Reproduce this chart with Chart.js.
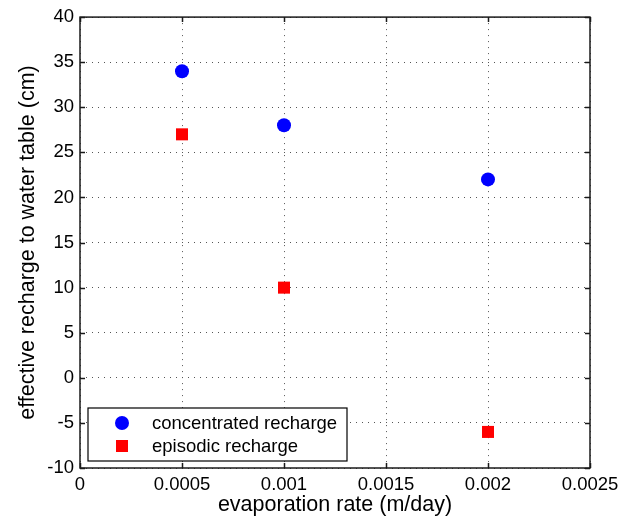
<!DOCTYPE html>
<html>
<head>
<meta charset="utf-8">
<script src="https://cdn.jsdelivr.net/npm/chart.js@4/dist/chart.umd.min.js"></script>
<style>
  html, body { margin: 0; padding: 0; background: #fff; }
  #wrap { width: 631px; height: 522px; }
</style>
</head>
<body>
<div id="wrap"><canvas id="recharge-chart" width="631" height="522"></canvas></div>
<script>
// evaporation rates (m/day) and recharge results (cm)
const evapRates = [0.0005, 0.001, 0.002];
const concentratedRecharge = [34, 28, 22];
const episodicRecharge = [27, 10, -6];

const xTicks = [0, 0.0005, 0.001, 0.0015, 0.002, 0.0025];
const yTicks = [-10, -5, 0, 5, 10, 15, 20, 25, 30, 35, 40];

const seriesNames = ["concentrated recharge", "episodic recharge"];

const FONT = "'Liberation Sans', Arial, Helvetica, sans-serif";

// box around plot area with inward ticks on all four sides
const boxPlugin = {
    id: "box",
    afterDatasetsDraw(chart) {
        const { ctx, chartArea: a, scales } = chart;
        ctx.save();
        ctx.strokeStyle = "#1a1a1a";
        ctx.lineWidth = 1.5;
        ctx.beginPath();
        xTicks.forEach(v => {
            const px = Math.round(scales.x.getPixelForValue(v)) + 0.5;
            ctx.moveTo(px, a.bottom); ctx.lineTo(px, a.bottom - 5);
            ctx.moveTo(px, a.top); ctx.lineTo(px, a.top + 5);
        });
        yTicks.forEach(v => {
            const py = Math.round(scales.y.getPixelForValue(v)) + 0.5;
            ctx.moveTo(a.left, py); ctx.lineTo(a.left + 5, py);
            ctx.moveTo(a.right, py); ctx.lineTo(a.right - 5, py);
        });
        ctx.stroke();
        ctx.strokeRect(a.left, a.top, a.right - a.left, a.bottom - a.top);
        ctx.restore();
    }
};

// legend drawn inside the lower-left corner of the axes
const insideLegend = {
    id: "insideLegend",
    afterDraw(chart) {
        const { ctx, chartArea: a } = chart;
        const x0 = a.left + 8, y0 = a.bottom - 60, w = 259, h = 53;
        ctx.save();
        ctx.fillStyle = "#fff";
        ctx.fillRect(x0, y0, w, h);
        ctx.strokeStyle = "#000";
        ctx.lineWidth = 1.2;
        ctx.strokeRect(x0, y0, w, h);
        ctx.font = "18.5px " + FONT;
        ctx.textBaseline = "middle";
        chart.data.datasets.forEach((ds, i) => {
            const cy = y0 + 15 + i * 23;
            const mx = x0 + 34;
            ctx.fillStyle = ds.backgroundColor;
            if (ds.pointStyle === "rect") {
                ctx.fillRect(mx - 6, cy - 6, 12, 12);
            } else {
                ctx.beginPath();
                ctx.arc(mx, cy, 7, 0, Math.PI * 2);
                ctx.fill();
            }
            ctx.fillStyle = "#000";
            ctx.fillText(ds.label, x0 + 64, cy + 1);
        });
        ctx.restore();
    }
};

const ctx = document.getElementById("recharge-chart").getContext("2d");
new Chart(ctx, {
    type: "scatter",
    data: {
        datasets: [
            {
                label: seriesNames[0],
                data: evapRates.map((x, i) => ({ x, y: concentratedRecharge[i] })),
                backgroundColor: "#0000ff",
                borderColor: "#0000ff",
                pointStyle: "circle",
                pointRadius: 7,
                borderWidth: 0
            },
            {
                label: seriesNames[1],
                data: evapRates.map((x, i) => ({ x, y: episodicRecharge[i] })),
                backgroundColor: "#ff0000",
                borderColor: "#ff0000",
                pointStyle: "rect",
                pointRadius: 8.5,
                borderWidth: 0
            }
        ]
    },
    options: {
        responsive: false,
        animation: false,
        layout: { padding: { top: 16, right: 41, left: 0, bottom: 0 } },
        plugins: {
            legend: { display: false },
            tooltip: { enabled: false }
        },
        scales: {
            x: {
                type: "linear",
                min: 0,
                max: 0.0025,
                afterBuildTicks: s => { s.ticks = xTicks.map(v => ({ value: v })); },
                afterFit: s => { s.height = 54; },
                ticks: {
                    color: "#000",
                    font: { family: FONT, size: 18.5 },
                    padding: 6,
                    callback: v => String(v)
                },
                grid: { color: "#555", lineWidth: 1, drawTicks: false },
                border: { display: false, dash: [1, 5] },
                title: {
                    display: true,
                    text: "evaporation rate (m/day)",
                    color: "#000",
                    font: { family: FONT, size: 21.5 },
                    padding: { top: 0, bottom: 4 }
                }
            },
            y: {
                type: "linear",
                min: -10,
                max: 40,
                afterBuildTicks: s => { s.ticks = yTicks.map(v => ({ value: v })); },
                afterFit: s => { s.width = 80; },
                ticks: {
                    color: "#000",
                    font: { family: FONT, size: 18.5 },
                    padding: 6
                },
                grid: { color: "#555", lineWidth: 1, drawTicks: false },
                border: { display: false, dash: [1, 5] },
                title: {
                    display: true,
                    text: "effective recharge to water table (cm)",
                    color: "#000",
                    font: { family: FONT, size: 21.5 },
                    padding: { top: 15, bottom: 0 }
                }
            }
        }
    },
    plugins: [boxPlugin, insideLegend]
});
</script>
</body>
</html>
